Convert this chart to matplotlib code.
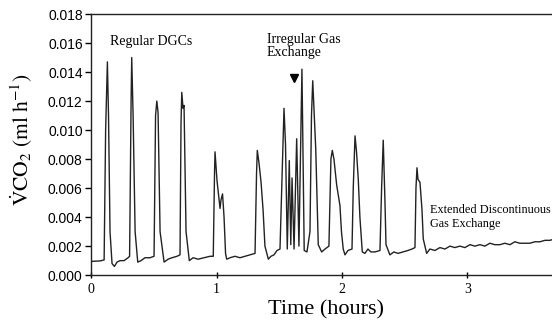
import matplotlib
matplotlib.use("Agg")
import matplotlib.pyplot as plt

# trace: time (hours) and VCO2 (ml/h)
time_h = [0.005, 0.072, 0.104, 0.116, 0.130, 0.139, 0.151, 0.167, 0.186, 0.207,
          0.231, 0.263, 0.295, 0.307, 0.319, 0.324, 0.335, 0.351, 0.372, 0.398,
          0.430, 0.470, 0.502, 0.514, 0.524, 0.534, 0.550, 0.582, 0.614, 0.645,
          0.685, 0.709, 0.717, 0.723, 0.733, 0.741, 0.757, 0.783, 0.813, 0.853,
          0.900, 0.948, 0.974, 0.984, 0.988, 1.004, 1.020, 1.028, 1.036, 1.048,
          1.060, 1.072, 1.081, 1.108, 1.147, 1.187, 1.227, 1.267, 1.307, 1.319,
          1.325, 1.339, 1.355, 1.371, 1.386, 1.413, 1.434, 1.458, 1.482, 1.506,
          1.520, 1.538, 1.550, 1.564, 1.580, 1.592, 1.602, 1.618, 1.639, 1.657,
          1.681, 1.699, 1.721, 1.745, 1.757, 1.767, 1.777, 1.791, 1.811, 1.838,
          1.865, 1.896, 1.912, 1.923, 1.936, 1.958, 1.984, 1.996, 2.010, 2.024,
          2.048, 2.080, 2.090, 2.104, 2.116, 2.130, 2.143, 2.162, 2.183, 2.207,
          2.231, 2.263, 2.303, 2.316, 2.329, 2.343, 2.351, 2.382, 2.414, 2.446,
          2.486, 2.526, 2.558, 2.582, 2.590, 2.598, 2.606, 2.622, 2.638, 2.648,
          2.675, 2.701, 2.741, 2.781, 2.821, 2.861, 2.900, 2.940, 2.980, 3.020,
          3.060, 3.100, 3.139, 3.179, 3.219, 3.259, 3.299, 3.339, 3.378, 3.418,
          3.458, 3.498, 3.538, 3.578, 3.618, 3.657, 3.700]
vco2 = [0.00095, 0.00098, 0.00105, 0.0100, 0.0147, 0.0110, 0.0030, 0.0008, 0.0006, 0.0009,
        0.0010, 0.0010, 0.0012, 0.0013, 0.0120, 0.0150, 0.0110, 0.0030, 0.0009, 0.0010,
        0.0012, 0.0012, 0.0013, 0.0110, 0.0120, 0.0112, 0.0030, 0.0009, 0.0011, 0.0012,
        0.0013, 0.0014, 0.0105, 0.0126, 0.0115, 0.0117, 0.0030, 0.0010, 0.0012, 0.0011,
        0.0012, 0.0013, 0.0013, 0.0070, 0.0085, 0.0065, 0.0052, 0.0046, 0.0052, 0.0056,
        0.0040, 0.0015, 0.0011, 0.0012, 0.0013, 0.0012, 0.0013, 0.0014, 0.0015, 0.0070,
        0.0086, 0.0077, 0.0064, 0.0045, 0.0020, 0.0011, 0.0013, 0.0014, 0.0017, 0.0018,
        0.0060, 0.0115, 0.0090, 0.0018, 0.0079, 0.0021, 0.0067, 0.0018, 0.0094, 0.0020,
        0.0142, 0.0017, 0.0016, 0.0030, 0.0110, 0.0134, 0.0115, 0.0087, 0.0021, 0.0016,
        0.0018, 0.0020, 0.0080, 0.0086, 0.0080, 0.0062, 0.0048, 0.0030, 0.0018, 0.0014,
        0.0017, 0.0018, 0.0060, 0.0096, 0.0085, 0.0066, 0.0040, 0.0016, 0.0015, 0.0018,
        0.0016, 0.0016, 0.0017, 0.0060, 0.0093, 0.0050, 0.0021, 0.0014, 0.0016, 0.0015,
        0.0016, 0.0017, 0.0018, 0.0019, 0.0060, 0.0074, 0.0066, 0.0064, 0.0045, 0.0025,
        0.0015, 0.0018, 0.0017, 0.0019, 0.0018, 0.0020, 0.0019, 0.0020, 0.0019, 0.0021,
        0.0020, 0.0021, 0.0020, 0.0022, 0.0021, 0.0021, 0.0022, 0.0021, 0.0023, 0.0022,
        0.0022, 0.0022, 0.0023, 0.0023, 0.0024, 0.0024, 0.0025]

y_ticks = [0.000, 0.002, 0.004, 0.006, 0.008, 0.010, 0.012, 0.014, 0.016, 0.018]
x_ticks = [0, 1, 2, 3]

plt.rcParams['mathtext.fontset'] = 'stix'
serif = 'Liberation Serif'

fig = plt.figure(figsize=(5.52, 3.26), dpi=100)
# axes runs past the right edge, the original scan is cropped there
ax = fig.add_axes([0.165, 0.156, 0.909, 0.801])
ax.plot(time_h, vco2, color='#222222', lw=1.0)

ax.set_xlim(0, 4)
ax.set_ylim(0, 0.018)
ax.set_yticks(y_ticks)
ax.set_yticklabels([f'{v:.3f}' for v in y_ticks], family='Liberation Sans', fontsize=10)
ax.set_xticks(x_ticks)
ax.set_xticklabels([str(v) for v in x_ticks], family=serif, fontsize=10)
ax.tick_params(axis='y', direction='out', length=4, width=1, pad=2)
ax.tick_params(axis='x', direction='inout', length=5, width=1, pad=3)
for s in ax.spines.values():
    s.set_linewidth(1.0)
    s.set_color('#222222')

ax.set_xlabel('Time (hours)', family=serif, fontsize=16)
ax.xaxis.set_label_coords(0.468, -0.095)
ax.set_ylabel(r'$\dot{\rm V}\rm CO_2\ (ml\ h^{-1})$', fontsize=15.5)
ax.yaxis.set_label_coords(-0.112, 0.52)

ax.text(0.15, 0.0161, 'Regular DGCs', family=serif, fontsize=10, va='center')
ax.text(1.40, 0.0158, 'Irregular Gas\nExchange', family=serif, fontsize=10,
        va='center', linespacing=1.05)
ax.plot([1.617], [0.0136], marker='v', color='black', markersize=6)
ax.text(2.70, 0.0040, 'Extended Discontinuous\nGas Exchange', family=serif,
        fontsize=8.8, va='center', linespacing=1.15)

fig.savefig('out.png', dpi=100)
